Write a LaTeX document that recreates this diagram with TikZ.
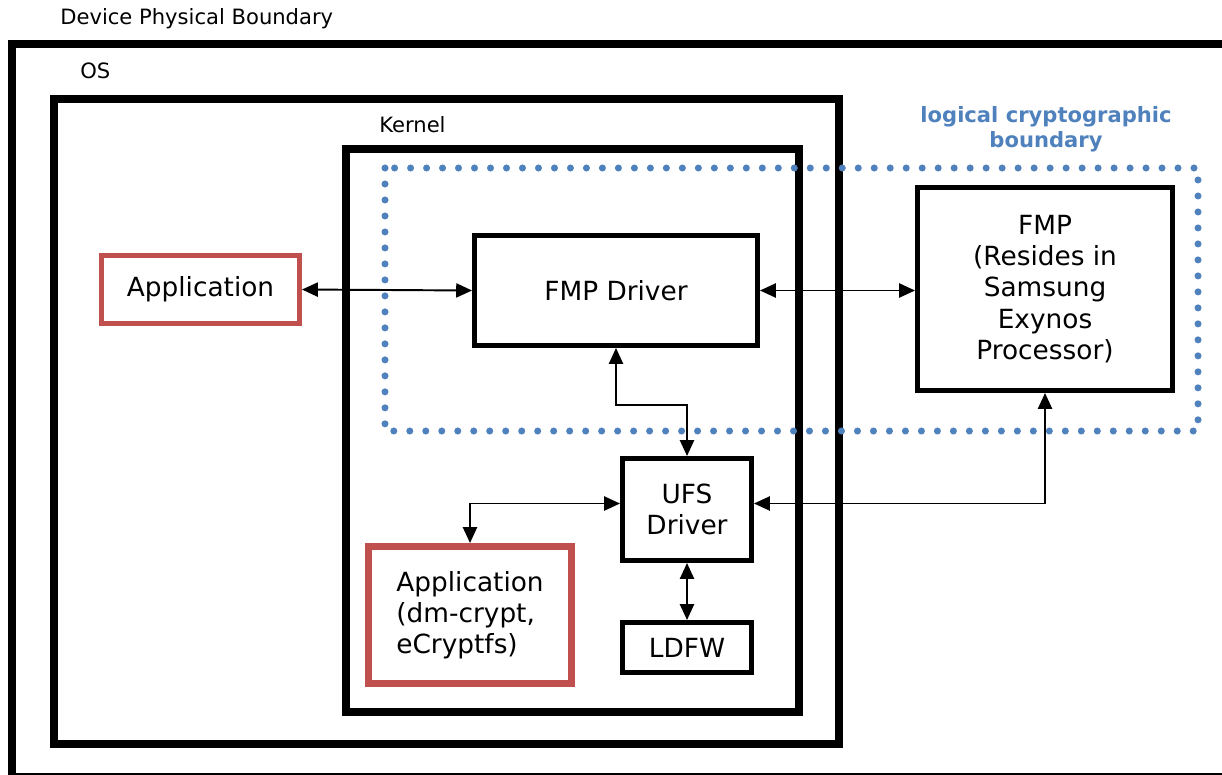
\documentclass[tikz,border=0pt]{standalone}
\usepackage{fontspec}
\setmainfont{DejaVu Sans}
\usepackage{tikz}
\usetikzlibrary{arrows.meta}
\usetikzlibrary{positioning}
\definecolor{appred}{RGB}{192,80,77}
\definecolor{cryptoblue}{RGB}{79,129,189}

\begin{document}
\begin{tikzpicture}[x=0.02cm,y=-0.02cm,
  box/.style={draw,line width=2.85pt,align=center,inner sep=0pt,font=\fontsize{15}{17.8}\selectfont},
  appbox/.style={box,draw=appred},
  lbl/.style={anchor=west,inner sep=0pt,font=\fontsize{12}{14}\selectfont},
  dbl/.style={{Triangle[length=9pt,width=8pt]}-{Triangle[length=9pt,width=8pt]},line width=1.1pt}]
\useasboundingbox (0,0) rectangle (1222,774);
% boundaries
\draw[line width=4.55pt] (12,44) rectangle (1240,777);
\draw[line width=4.55pt] (54,99) rectangle (839,744);
\draw[line width=4.55pt] (346,149) rectangle (799,712);
\draw[cryptoblue,line width=4pt,line cap=round,dash pattern=on 0pt off 9.1pt] (385,168) rectangle (1198,431);
\node[lbl] (devlbl) at (60,19) {Device Physical Boundary};
\node[lbl] (oslbl) at (80,71) {OS};
\node[lbl] (kernlbl) at (379,125) {Kernel};
\node[align=center,inner sep=0pt,text=cryptoblue,font=\bfseries\fontsize{12}{14.2}\selectfont] (cryptolbl) at (1046,129) {logical cryptographic\\boundary};
% boxes
\node[appbox,minimum width=3.96cm,minimum height=1.36cm] (app) at (200.5,289.5) {Application};
\node[box,minimum width=5.66cm,minimum height=2.2cm] (fmpdrv) at (616,290.5) {FMP Driver};
\node[box,minimum width=5.1cm,minimum height=4.06cm] (fmp) at (1045,289) {\raisebox{-0.08cm}{\parbox{4cm}{\centering FMP\\(Resides in\\Samsung\\Exynos\\Processor)}}};
\node[box,minimum width=2.58cm,minimum height=2.04cm] (ufs) at (687,509.5) {UFS\\Driver};
\node[box,minimum width=2.58cm,minimum height=1cm] (ldfw) at (687,647.5) {LDFW};
\node[appbox,line width=4pt,align=left,minimum width=4.06cm,minimum height=2.74cm] (dmapp) at (470,615) {Application\\(dm-crypt,\\eCryptfs)};
% connectors
\draw[dbl] (app.east) -- (fmpdrv.west);
\draw[dbl] (fmpdrv.east) -- (fmpdrv.east -| fmp.west);
\draw[dbl] (fmpdrv.south) -- ++(0,57) -| (ufs.north);
\coordinate (ufsw) at ([yshift=0.12cm]ufs.west);
\coordinate (ufse) at ([yshift=0.12cm]ufs.east);
\draw[dbl] (ufsw) -| (dmapp.north);
\draw[dbl] (ufse) -| (fmp.south);
\draw[dbl] (ufs.south) -- (ldfw.north);
\end{tikzpicture}
\end{document}
